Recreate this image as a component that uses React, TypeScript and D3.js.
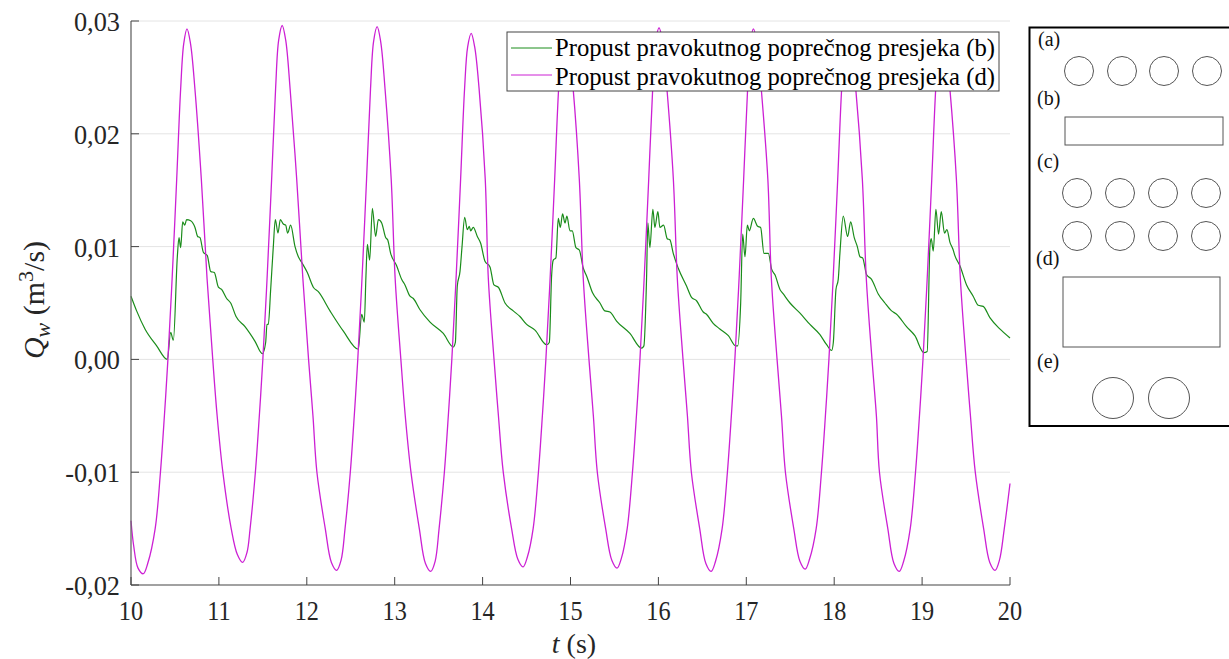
import React from "react";
import * as d3 from "d3";

const xTicks = [10, 11, 12, 13, 14, 15, 16, 17, 18, 19, 20];
const yTicks = [-0.02, -0.01, 0, 0.01, 0.02, 0.03];
const yTickLabels = ["-0,02", "-0,01", "0,00", "0,01", "0,02", "0,03"];
const legendLabels = ["Propust pravokutnog poprečnog presjeka (b)", "Propust pravokutnog poprečnog presjeka (d)"];

const greenT = [
  10, 10.064, 10.159, 10.292, 10.413, 10.451, 10.482, 10.527, 10.546, 10.565, 10.588, 10.611, 10.633, 10.679, 10.728, 10.758, 10.785, 10.823, 10.868, 10.906, 10.948, 10.994, 11.031, 11.088, 11.134, 11.195, 11.297, 11.411,
  11.494, 11.532, 11.547, 11.562, 11.589, 11.619, 11.642, 11.672, 11.699, 11.733, 11.76, 11.782, 11.816, 11.866, 11.904, 11.942, 12.006, 12.074, 12.131, 12.264, 12.416,
  12.586, 12.624, 12.654, 12.673, 12.689, 12.715, 12.746, 12.783, 12.814, 12.852, 12.897, 12.92, 12.954, 13.022, 13.079, 13.117, 13.174, 13.212, 13.288, 13.402, 13.553,
  13.667, 13.69, 13.712, 13.743, 13.766, 13.796, 13.826, 13.849, 13.864, 13.894, 13.94, 13.978, 14.027, 14.084, 14.129, 14.179, 14.255, 14.349, 14.425, 14.501, 14.596,
  14.728, 14.759, 14.785, 14.804, 14.834, 14.861, 14.884, 14.91, 14.937, 14.959, 14.994, 15.02, 15.062, 15.1, 15.145, 15.183, 15.251, 15.335, 15.391, 15.448, 15.524, 15.676,
  15.808, 15.835, 15.865, 15.88, 15.903, 15.937, 15.96, 15.994, 16.017, 16.059, 16.1, 16.131, 16.169, 16.225, 16.32, 16.377, 16.434, 16.51, 16.547, 16.623, 16.699, 16.796,
  16.879, 16.902, 16.936, 16.959, 16.985, 17.012, 17.034, 17.08, 17.129, 17.163, 17.201, 17.251, 17.288, 17.326, 17.383, 17.421, 17.497, 17.611, 17.724, 17.838, 17.914,
  17.971, 17.99, 18.02, 18.046, 18.065, 18.103, 18.153, 18.187, 18.228, 18.263, 18.293, 18.323, 18.369, 18.425, 18.501, 18.577, 18.653, 18.71, 18.823, 18.918,
  19.02, 19.058, 19.089, 19.104, 19.127, 19.157, 19.187, 19.218, 19.255, 19.282, 19.316, 19.354, 19.373, 19.43, 19.506, 19.581, 19.638, 19.695, 19.771, 19.884, 20,
];
const greenQ = [
  0.0056, 0.0043, 0.0027, 0.0012, 0, 0.0024, 0.0017, 0.0091, 0.0108, 0.0099, 0.0122, 0.0119, 0.0124, 0.0123, 0.0117, 0.0109, 0.0108, 0.0095, 0.0092, 0.0078, 0.0077, 0.0064, 0.0062, 0.0054, 0.005, 0.0038, 0.0029, 0.0016,
  0.0005, 0.0015, 0.0031, 0.0031, 0.0062, 0.01, 0.0124, 0.0112, 0.0124, 0.012, 0.0119, 0.0112, 0.0119, 0.01, 0.0091, 0.0086, 0.0077, 0.0064, 0.006, 0.0043, 0.0025,
  0.0009, 0.004, 0.0033, 0.0074, 0.0102, 0.0088, 0.0134, 0.0109, 0.0124, 0.0121, 0.0108, 0.0106, 0.0094, 0.0083, 0.0071, 0.0066, 0.0056, 0.0054, 0.0044, 0.0033, 0.0023,
  0.0011, 0.0015, 0.0065, 0.0078, 0.01, 0.0126, 0.0115, 0.0118, 0.0114, 0.0117, 0.0109, 0.0103, 0.0087, 0.0082, 0.0066, 0.0064, 0.005, 0.0043, 0.0038, 0.0031, 0.0026,
  0.0013, 0.0015, 0.0074, 0.0088, 0.009, 0.0125, 0.0117, 0.0129, 0.0121, 0.0127, 0.0114, 0.0114, 0.0099, 0.0097, 0.0081, 0.0074, 0.0059, 0.005, 0.0043, 0.0042, 0.0034, 0.0023,
  0.001, 0.0012, 0.0071, 0.0121, 0.0099, 0.0133, 0.0117, 0.0131, 0.0117, 0.0119, 0.0107, 0.0106, 0.0094, 0.0081, 0.0065, 0.0055, 0.0052, 0.0042, 0.004, 0.0032, 0.0027, 0.0021,
  0.0012, 0.0012, 0.005, 0.0111, 0.0091, 0.0119, 0.0114, 0.0125, 0.0118, 0.0117, 0.0094, 0.0094, 0.008, 0.0075, 0.0062, 0.0058, 0.005, 0.0041, 0.0031, 0.0022, 0.0013,
  0.0008, 0.0015, 0.0062, 0.0071, 0.0094, 0.0127, 0.0109, 0.0122, 0.0108, 0.01, 0.0091, 0.009, 0.0075, 0.0071, 0.0058, 0.005, 0.0043, 0.004, 0.0029, 0.0021,
  0.0006, 0.0007, 0.01, 0.0107, 0.0096, 0.0133, 0.0111, 0.0131, 0.0112, 0.0115, 0.0104, 0.0097, 0.0092, 0.0083, 0.0066, 0.0056, 0.0048, 0.0047, 0.0037, 0.0027, 0.0019,
];

const magentaT = [
  10, 10.03, 10.08, 10.14, 10.19, 10.275, 10.335, 10.38, 10.42, 10.47, 10.52, 10.565, 10.6, 10.637, 10.677, 10.727, 10.8, 10.865, 10.93, 10.98, 11.045, 11.14, 11.21, 11.27,
  11.32, 11.355, 11.415, 11.46, 11.5, 11.55, 11.6, 11.645, 11.68, 11.72, 11.76, 11.81, 11.885, 11.955, 12.02, 12.07, 12.115, 12.21, 12.28, 12.34,
  12.39, 12.435, 12.495, 12.54, 12.58, 12.63, 12.68, 12.725, 12.76, 12.8, 12.84, 12.89, 12.96, 13.005, 13.07, 13.12, 13.185, 13.28, 13.35, 13.41,
  13.46, 13.505, 13.565, 13.61, 13.65, 13.7, 13.75, 13.795, 13.83, 13.87, 13.91, 13.96, 14.03, 14.065, 14.13, 14.18, 14.235, 14.33, 14.4, 14.46,
  14.51, 14.575, 14.635, 14.68, 14.72, 14.77, 14.82, 14.865, 14.9, 14.94, 14.98, 15.03, 15.1, 15.145, 15.21, 15.26, 15.305, 15.4, 15.47, 15.53,
  15.58, 15.645, 15.705, 15.75, 15.79, 15.84, 15.89, 15.935, 15.97, 16.007, 16.047, 16.097, 16.17, 16.215, 16.28, 16.33, 16.375, 16.47, 16.54, 16.6,
  16.65, 16.725, 16.785, 16.83, 16.87, 16.92, 16.97, 17.015, 17.05, 17.08, 17.12, 17.17, 17.245, 17.285, 17.35, 17.4, 17.445, 17.54, 17.61, 17.67,
  17.72, 17.795, 17.855, 17.9, 17.94, 17.99, 18.04, 18.085, 18.12, 18.155, 18.195, 18.245, 18.32, 18.365, 18.43, 18.48, 18.515, 18.61, 18.68, 18.74,
  18.79, 18.865, 18.925, 18.97, 19.01, 19.06, 19.11, 19.155, 19.19, 19.226, 19.266, 19.316, 19.39, 19.435, 19.5, 19.55, 19.605, 19.7, 19.77, 19.83,
  19.88, 19.935, 20,
];
const magentaQ = [
  -0.0143, -0.0165, -0.0185, -0.019, -0.0181, -0.015, -0.01, -0.005, 0, 0.0075, 0.016, 0.024, 0.028, 0.0293, 0.028, 0.024, 0.016, 0.0072, 0, -0.005, -0.01, -0.015, -0.0173, -0.018,
  -0.0171, -0.015, -0.01, -0.005, 0, 0.0075, 0.016, 0.024, 0.0283, 0.0296, 0.0283, 0.024, 0.016, 0.0072, 0, -0.005, -0.01, -0.015, -0.018, -0.0187,
  -0.0178, -0.015, -0.01, -0.005, 0, 0.0075, 0.016, 0.024, 0.0282, 0.0295, 0.0282, 0.024, 0.016, 0.0072, 0, -0.005, -0.01, -0.015, -0.0181, -0.0188,
  -0.0179, -0.015, -0.01, -0.005, 0, 0.0075, 0.016, 0.024, 0.0277, 0.0289, 0.0277, 0.024, 0.016, 0.0072, 0, -0.005, -0.01, -0.015, -0.0177, -0.0184,
  -0.0175, -0.015, -0.01, -0.005, 0, 0.0075, 0.016, 0.024, 0.0277, 0.0287, 0.0278, 0.024, 0.016, 0.0072, 0, -0.005, -0.01, -0.015, -0.0178, -0.0185,
  -0.0176, -0.015, -0.01, -0.005, 0, 0.0075, 0.016, 0.024, 0.0282, 0.0294, 0.0282, 0.024, 0.016, 0.0072, 0, -0.005, -0.01, -0.015, -0.0181, -0.0188,
  -0.0179, -0.015, -0.01, -0.005, 0, 0.0075, 0.016, 0.024, 0.0282, 0.0293, 0.0282, 0.024, 0.016, 0.0072, 0, -0.005, -0.01, -0.015, -0.0179, -0.0186,
  -0.0177, -0.015, -0.01, -0.005, 0, 0.0075, 0.016, 0.024, 0.0277, 0.0288, 0.0277, 0.024, 0.016, 0.0072, 0, -0.005, -0.01, -0.015, -0.0181, -0.0188,
  -0.0179, -0.015, -0.01, -0.005, 0, 0.0075, 0.016, 0.024, 0.0279, 0.029, 0.0279, 0.024, 0.016, 0.0072, 0, -0.005, -0.01, -0.015, -0.018, -0.0187,
  -0.0178, -0.015, -0.011,
];

const panelLabels = ["(a)", "(b)", "(c)", "(d)", "(e)"];
const panelCircles = [
  [1079, 71, 14.5], [1122, 71, 14.5], [1164, 71, 14.5], [1207, 71, 14.5],
  [1077, 193, 14.5], [1120, 193, 14.5], [1163, 193, 14.5], [1206, 193, 14.5],
  [1077, 236, 14.5], [1120, 236, 14.5], [1163, 236, 14.5], [1206, 236, 14.5],
  [1113, 398, 20.5], [1169, 398, 20.5],
];
const panelRects = [
  [1065, 117, 158, 28],
  [1063, 277, 157, 70],
];
const panelLabelPos = [[1038, 46], [1037, 105], [1037, 168], [1036, 265], [1037, 368]];

const serif = "'Liberation Serif', serif";
const ink = "#262626";
const greenColor = "#1a8c1a";
const magentaColor = "#cc20d4";

export default function App() {
  const x = d3.scaleLinear().domain([10, 20]).range([131, 1010]);
  const y = d3.scaleLinear().domain([-0.02, 0.03]).range([585, 21]);
  const lineGreen = d3
    .line<number>()
    .x((d) => x(greenT[d]))
    .y((d) => y(greenQ[d]))
    .curve(d3.curveMonotoneX);
  const lineMagenta = d3
    .line<number>()
    .x((d) => x(magentaT[d]))
    .y((d) => y(magentaQ[d]))
    .curve(d3.curveCatmullRom.alpha(0.5));

  return (
    <svg
      width={1229}
      height={659}
      style={{ position: "absolute", left: 0, top: 0, display: "block", background: "#fff" }}
      fontFamily={serif}
    >
      {yTicks.slice(1).map((t) => (
        <line key={t} x1={131} x2={1010} y1={y(t)} y2={y(t)} stroke="#e4e4e4" strokeWidth={1} />
      ))}
      <path d={lineGreen(d3.range(greenT.length)) || ""} fill="none" stroke={greenColor} strokeWidth={1.2} />
      <path d={lineMagenta(d3.range(magentaT.length)) || ""} fill="none" stroke={magentaColor} strokeWidth={1.3} />

      <line x1={131} x2={131} y1={21} y2={585} stroke="#666" strokeWidth={1.3} />
      <line x1={131} x2={1010} y1={585} y2={585} stroke="#444" strokeWidth={1.2} />
      {xTicks.map((t) => (
        <g key={t}>
          <line x1={x(t)} x2={x(t)} y1={585} y2={577} stroke="#444" strokeWidth={1} />
          <text transform={`translate(${x(t)},620) scale(0.9,1)`} textAnchor="middle" fontSize={27} fill={ink}>{t}</text>
        </g>
      ))}
      {yTicks.map((t, i) => (
        <g key={t}>
          <line x1={131} x2={139} y1={y(t)} y2={y(t)} stroke="#444" strokeWidth={1} />
          <text transform={`translate(120,${y(t) + 10}) scale(0.94,1)`} textAnchor="end" fontSize={28} fill={ink}>{yTickLabels[i]}</text>
        </g>
      ))}
      <text x={574} y={653} textAnchor="middle" fontSize={28} fill={ink}>
        <tspan fontStyle="italic">t</tspan> (s)
      </text>
      <text transform="translate(44,300) rotate(-90)" textAnchor="middle" fontSize={30} fill={ink}>
        <tspan fontStyle="italic">Q</tspan>
        <tspan fontStyle="italic" fontSize={22} dy={6}>w</tspan>
        <tspan dy={-6}> (m</tspan>
        <tspan fontSize={22} dy={-11}>3</tspan>
        <tspan dy={11}>/s)</tspan>
      </text>

      <rect x={507} y={32} width={492} height={59} fill="#fff" stroke="#444" strokeWidth={1} />
      <line x1={511} x2={552} y1={48} y2={48} stroke={greenColor} strokeWidth={1} />
      <line x1={511} x2={552} y1={75} y2={75} stroke={magentaColor} strokeWidth={1} />
      {legendLabels.map((l, i) => (
        <text key={l} x={555} y={56 + i * 29} fontSize={26} textLength={440} lengthAdjust="spacingAndGlyphs" fill="#000">{l}</text>
      ))}

      <path d="M1229 27.5H1029.5V426H1229" fill="none" stroke="#000" strokeWidth={2} />
      {panelCircles.map(([cx, cy, r], i) => (
        <circle key={i} cx={cx} cy={cy} r={r} fill="#fff" stroke="#555" strokeWidth={1} />
      ))}
      {panelRects.map(([rx, ry, w, h], i) => (
        <rect key={i} x={rx} y={ry} width={w} height={h} fill="#fff" stroke="#555" strokeWidth={1} />
      ))}
      {panelLabels.map((l, i) => (
        <text key={l} x={panelLabelPos[i][0]} y={panelLabelPos[i][1]} fontSize={20} fill="#111">{l}</text>
      ))}
    </svg>
  );
}
